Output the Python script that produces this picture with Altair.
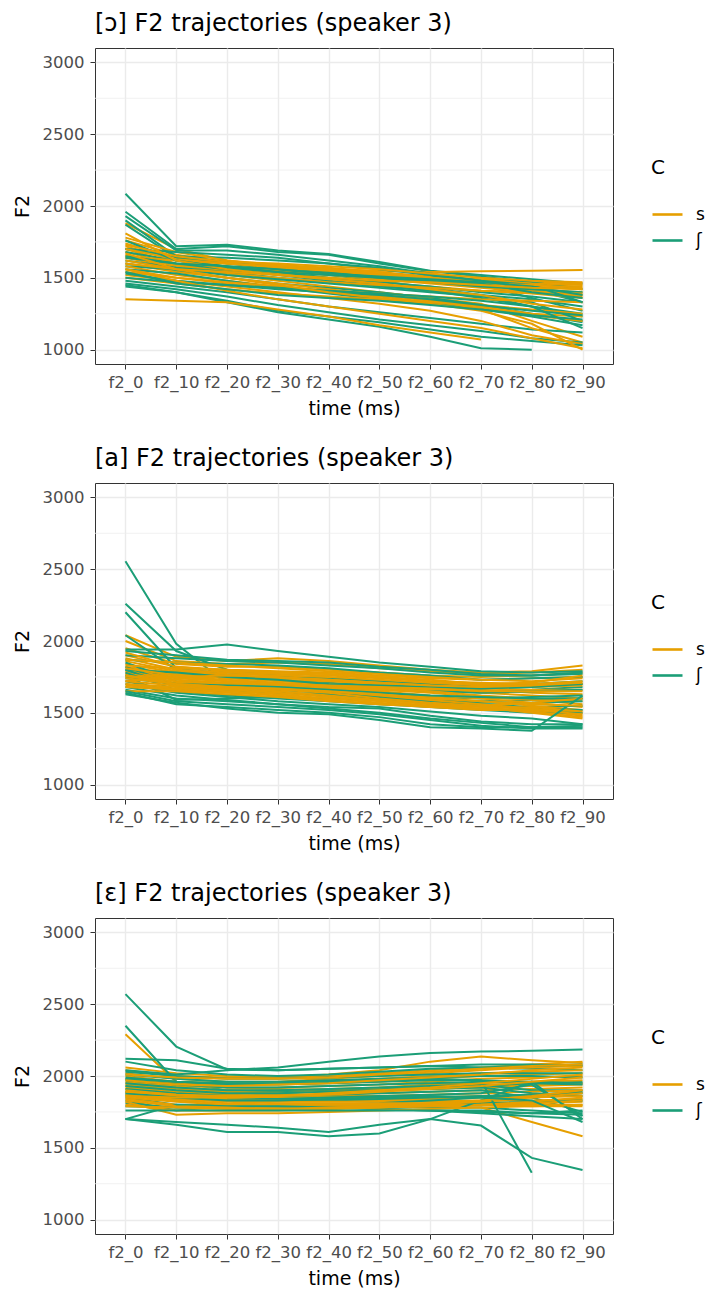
import altair as alt
import pandas as pd

times = ["f2_0", "f2_10", "f2_20", "f2_30", "f2_40", "f2_50", "f2_60", "f2_70", "f2_80", "f2_90"]
categories = ["s", "ʃ"]
colors = ["#E69F00", "#1B9E77"]
y_ticks = [1000, 1500, 2000, 2500, 3000]
y_minor = [1250, 1750, 2250, 2750]
titles = ["[ɔ] F2 trajectories (speaker 3)", "[a] F2 trajectories (speaker 3)", "[ɛ] F2 trajectories (speaker 3)"]

# ---------- [ɔ] ----------
o_s = [
    [1880, 1700, 1620, 1580, 1550, 1520, 1500, 1470, 1450, 1440],
    [1760, 1660, 1610, 1590, 1570, 1540, 1510, 1490, 1470, 1460],
    [1740, 1640, 1600, 1580, 1560, 1550, 1540, 1545, 1550, 1555],
    [1720, 1620, 1580, 1560, 1540, 1510, 1480, 1450, 1420, 1400],
    [1700, 1600, 1570, 1550, 1530, 1500, 1470, 1440, 1410, 1380],
    [1680, 1590, 1560, 1540, 1520, 1490, 1460, 1430, 1400, 1370],
    [1660, 1580, 1550, 1530, 1500, 1470, 1440, 1410, 1390, 1360],
    [1650, 1620, 1600, 1580, 1560, 1530, 1500, 1470, 1440, 1420],
    [1640, 1570, 1520, 1480, 1440, 1400, 1360, 1320, 1200, 1090],
    [1620, 1560, 1530, 1500, 1470, 1450, 1430, 1410, 1400, 1390],
    [1600, 1540, 1500, 1460, 1420, 1380, 1340, 1300, 1250, 1230],
    [1580, 1520, 1480, 1440, 1400, 1370, 1330, 1290, 1240, 1200],
    [1560, 1500, 1460, 1430, 1410, 1390, 1370, 1350, 1340, 1330],
    [1540, 1500, 1470, 1440, 1410, 1380, 1350, 1280, 1150, 1050],
    [1520, 1480, 1440, 1400, 1360, 1320, 1270, 1200, 1100, 1040],
    [1500, 1460, 1420, 1390, 1370, 1350, 1330, 1310, 1280, 1250],
    [1350, 1340, 1330, 1280, 1230, 1170, 1120, 1070, None, None],
    [1780, 1680, 1620, 1590, 1560, 1530, 1500, 1480, 1460, 1450],
    [1700, 1630, 1600, 1570, 1550, 1520, 1490, 1460, 1450, 1430],
    [1810, 1620, 1560, 1520, 1490, 1460, 1420, 1380, 1320, 1280],
    [1560, 1480, 1410, 1350, 1300, 1250, 1200, 1150, 1080, 1010],
    [1670, 1560, 1500, 1450, 1400, 1360, 1320, 1270, 1180, 1000],
    [1600, 1560, 1540, 1520, 1500, 1480, 1470, 1450, 1430, 1420],
    [1730, 1650, 1610, 1600, 1580, 1560, 1530, 1500, 1480, 1470],
]
o_sh = [
    [2085, 1720, 1730, 1690, 1665, 1610, 1550, 1520, 1490, 1460],
    [1960, 1700, 1720, 1680, 1660, 1600, 1545, 1510, 1470, 1420],
    [1930, 1690, 1690, 1660, 1620, 1580, 1530, 1480, 1420, 1330],
    [1900, 1650, 1640, 1620, 1600, 1570, 1520, 1450, 1360, 1270],
    [1870, 1640, 1600, 1560, 1520, 1480, 1430, 1380, 1300, 1230],
    [1700, 1650, 1610, 1570, 1540, 1500, 1470, 1440, 1420, 1400],
    [1680, 1620, 1580, 1540, 1500, 1470, 1440, 1400, 1370, 1330],
    [1650, 1600, 1560, 1520, 1480, 1450, 1410, 1360, 1300, 1250],
    [1620, 1570, 1540, 1500, 1470, 1440, 1410, 1380, 1350, 1300],
    [1600, 1550, 1500, 1460, 1430, 1400, 1360, 1310, 1250, 1190],
    [1580, 1560, 1520, 1490, 1460, 1430, 1400, 1370, 1330, 1200],
    [1560, 1530, 1480, 1430, 1390, 1350, 1320, 1280, 1230, 1170],
    [1480, 1440, 1400, 1350, 1300, 1260, 1220, 1180, 1140, 1120],
    [1460, 1420, 1370, 1310, 1260, 1210, 1170, 1130, 1080, 1050],
    [1450, 1400, 1340, 1270, 1230, 1190, 1140, 1090, 1060, 1030],
    [1440, 1400, 1330, 1260, 1210, 1160, 1090, 1010, 1000, None],
    [1530, 1480, 1450, 1420, 1400, 1380, 1350, 1310, 1270, 1240],
    [1700, 1680, 1660, 1640, 1600, 1560, 1520, 1480, 1450, 1330],
    [1760, 1620, 1570, 1540, 1520, 1500, 1480, 1460, 1400, 1360],
    [1500, 1470, 1450, 1430, 1410, 1390, 1370, 1340, 1300, 1150],
    [1640, 1600, 1580, 1560, 1530, 1510, 1490, 1470, 1440, 1380],
    [1540, 1460, 1420, 1380, 1360, 1340, 1310, 1280, 1240, 1210],
]

# ---------- [a] ----------
a_s = [
    [2040, 1890, 1860, 1880, 1860, 1830, 1800, 1780, 1790, 1830],
    [2000, 1860, 1840, 1850, 1840, 1810, 1790, 1770, 1780, 1800],
    [1950, 1840, 1820, 1820, 1800, 1780, 1760, 1750, 1760, 1780],
    [1900, 1820, 1800, 1790, 1780, 1760, 1740, 1730, 1740, 1750],
    [1880, 1800, 1780, 1770, 1760, 1740, 1720, 1710, 1700, 1720],
    [1860, 1790, 1770, 1760, 1750, 1730, 1710, 1690, 1680, 1690],
    [1840, 1780, 1760, 1740, 1730, 1710, 1690, 1670, 1660, 1660],
    [1820, 1770, 1750, 1730, 1720, 1700, 1680, 1660, 1640, 1630],
    [1800, 1760, 1740, 1720, 1700, 1680, 1660, 1640, 1620, 1600],
    [1790, 1750, 1730, 1710, 1690, 1670, 1650, 1620, 1600, 1580],
    [1780, 1740, 1720, 1700, 1680, 1660, 1640, 1610, 1590, 1560],
    [1770, 1730, 1710, 1690, 1670, 1650, 1620, 1600, 1570, 1540],
    [1760, 1720, 1700, 1680, 1660, 1640, 1610, 1580, 1550, 1520],
    [1750, 1710, 1690, 1670, 1650, 1620, 1590, 1560, 1530, 1500],
    [1740, 1700, 1680, 1660, 1640, 1600, 1570, 1550, 1520, 1480],
    [1720, 1690, 1670, 1650, 1620, 1590, 1560, 1540, 1500, 1460],
    [1700, 1680, 1660, 1640, 1610, 1580, 1550, 1530, 1510, 1470],
    [1690, 1670, 1650, 1630, 1600, 1570, 1540, 1520, 1520, 1490],
    [1680, 1660, 1640, 1620, 1590, 1560, 1540, 1530, 1540, 1510],
    [1650, 1650, 1630, 1610, 1580, 1560, 1550, 1550, 1570, 1600],
    [1870, 1850, 1830, 1810, 1790, 1770, 1750, 1730, 1720, 1740],
    [1830, 1810, 1800, 1780, 1770, 1750, 1730, 1700, 1690, 1700],
    [1810, 1760, 1720, 1700, 1690, 1680, 1670, 1650, 1650, 1650],
    [1720, 1750, 1760, 1750, 1730, 1710, 1690, 1680, 1690, 1710],
    [1920, 1820, 1790, 1780, 1770, 1750, 1720, 1700, 1710, 1760],
    [1760, 1700, 1680, 1670, 1650, 1630, 1600, 1580, 1560, 1550],
]
a_sh = [
    [2555, 1980, 1700, 1660, 1640, 1610, 1590, 1580, 1590, 1600],
    [2260, 1930, 1800, 1760, 1740, 1720, 1690, 1670, 1680, 1700],
    [2200, 1810, 1760, 1730, 1710, 1690, 1670, 1650, 1660, 1680],
    [2040, 1800, 1780, 1760, 1740, 1720, 1700, 1690, 1700, 1720],
    [1940, 1940, 1975, 1930, 1890, 1850, 1820, 1790, 1780, 1790],
    [1930, 1900, 1870, 1860, 1850, 1820, 1800, 1770, 1760, 1780],
    [1900, 1880, 1860, 1850, 1830, 1810, 1780, 1760, 1760, 1770],
    [1870, 1850, 1840, 1830, 1810, 1780, 1760, 1730, 1740, 1750],
    [1850, 1720, 1700, 1690, 1680, 1660, 1650, 1640, 1650, 1660],
    [1820, 1700, 1680, 1660, 1640, 1620, 1610, 1600, 1610, 1620],
    [1800, 1680, 1660, 1640, 1630, 1610, 1590, 1570, 1570, 1580],
    [1780, 1660, 1650, 1640, 1620, 1600, 1580, 1560, 1540, 1550],
    [1760, 1590, 1600, 1610, 1600, 1590, 1570, 1550, 1530, 1520],
    [1740, 1700, 1690, 1680, 1660, 1640, 1620, 1610, 1600, 1600],
    [1720, 1650, 1620, 1600, 1580, 1560, 1540, 1520, 1500, 1500],
    [1700, 1640, 1610, 1580, 1560, 1540, 1510, 1480, 1460, 1420],
    [1680, 1620, 1590, 1560, 1530, 1500, 1460, 1430, 1400, 1410],
    [1660, 1600, 1580, 1560, 1540, 1530, 1480, 1440, 1420, 1420],
    [1640, 1560, 1540, 1520, 1500, 1470, 1420, 1400, 1400, 1400],
    [1630, 1570, 1530, 1500, 1490, 1450, 1400, 1390, 1375, 1620],
    [1650, 1580, 1560, 1540, 1520, 1490, 1450, 1410, 1390, 1390],
    [1800, 1780, 1750, 1730, 1700, 1690, 1680, 1670, 1680, 1700],
]

# ---------- [ɛ] ----------
e_s = [
    [2290, 1960, 1920, 1910, 1900, 1910, 1920, 1930, 1940, 1950],
    [2060, 2020, 2000, 1990, 2000, 2020, 2040, 2060, 2080, 2100],
    [2040, 2000, 1990, 1990, 2010, 2040, 2100, 2135, 2110, 2090],
    [2020, 1980, 1960, 1960, 1980, 2000, 2020, 2040, 2060, 2070],
    [2000, 1960, 1950, 1950, 1960, 1980, 2000, 2020, 2030, 2040],
    [1980, 1950, 1940, 1940, 1950, 1960, 1980, 2000, 2010, 2020],
    [1960, 1930, 1920, 1920, 1930, 1940, 1960, 1980, 1990, 2000],
    [1950, 1920, 1900, 1900, 1910, 1920, 1940, 1950, 1960, 1970],
    [1940, 1910, 1890, 1880, 1890, 1900, 1910, 1920, 1930, 1940],
    [1930, 1900, 1880, 1870, 1870, 1880, 1890, 1900, 1910, 1920],
    [1920, 1890, 1870, 1860, 1860, 1860, 1870, 1880, 1890, 1900],
    [1910, 1880, 1860, 1850, 1850, 1850, 1850, 1860, 1870, 1880],
    [1900, 1870, 1850, 1840, 1840, 1840, 1840, 1850, 1850, 1860],
    [1890, 1860, 1840, 1830, 1830, 1830, 1830, 1830, 1830, 1840],
    [1880, 1850, 1830, 1820, 1820, 1820, 1820, 1820, 1810, 1820],
    [1870, 1840, 1820, 1810, 1810, 1810, 1810, 1810, 1800, 1800],
    [1860, 1830, 1810, 1800, 1800, 1800, 1800, 1800, 1790, 1790],
    [1850, 1820, 1800, 1790, 1790, 1790, 1790, 1780, 1680, 1580],
    [1840, 1800, 1790, 1780, 1780, 1780, 1790, 1800, 1810, 1830],
    [1830, 1790, 1780, 1770, 1770, 1780, 1790, 1800, 1820, 1850],
    [1820, 1730, 1740, 1740, 1750, 1760, 1770, 1780, 1790, 1800],
    [1800, 1760, 1760, 1760, 1770, 1780, 1800, 1820, 1850, 1880],
    [1790, 1780, 1770, 1770, 1780, 1790, 1810, 1830, 1860, 1900],
    [2010, 1990, 1980, 1980, 1990, 2010, 2030, 2050, 2070, 2080],
    [1970, 1940, 1930, 1940, 1950, 1970, 1990, 2010, 2040, 2060],
    [1890, 1870, 1860, 1860, 1880, 1900, 1920, 1950, 1980, 2010],
    [1860, 1850, 1850, 1860, 1870, 1890, 1910, 1930, 1960, 1990],
]
e_sh = [
    [2570, 2205, 2045, 2040, 2050, 2060, 2070, 2060, 2050, 2040],
    [2350, 1960, 1900, 1890, 1900, 1910, 1920, 1930, 1950, 1960],
    [2120, 2110, 2050, 2040, 2050, 2060, 2070, 2080, 2080, 2070],
    [2040, 2010, 2040, 2060, 2100, 2135, 2160, 2170, 2175, 2185],
    [2100, 2040, 2010, 2000, 2010, 2030, 2050, 2060, 2070, 2080],
    [2030, 2000, 1980, 1980, 1990, 2000, 2010, 2020, 2020, 2020],
    [2010, 1980, 1960, 1960, 1970, 1980, 1990, 2000, 2000, 1990],
    [1990, 1960, 1940, 1940, 1950, 1960, 1970, 1970, 1960, 1950],
    [1970, 1940, 1920, 1920, 1930, 1940, 1950, 1960, 1950, 1940],
    [1950, 1920, 1900, 1900, 1910, 1920, 1930, 1940, 1900, 1900],
    [1930, 1900, 1880, 1880, 1890, 1900, 1910, 1920, 1880, 1860],
    [1910, 1880, 1860, 1860, 1870, 1880, 1890, 1900, 1850, 1750],
    [1890, 1860, 1840, 1840, 1850, 1860, 1870, 1880, 1940, 1720],
    [1870, 1840, 1830, 1830, 1830, 1840, 1850, 1860, 1870, 1880],
    [1850, 1800, 1800, 1800, 1800, 1810, 1830, 1850, 1870, 1890],
    [1830, 1760, 1790, 1790, 1790, 1790, 1800, 1810, 1820, 1830],
    [1810, 1780, 1780, 1780, 1780, 1780, 1780, 1780, 1760, 1740],
    [1790, 1780, 1780, 1780, 1780, 1770, 1760, 1750, 1740, 1730],
    [1700, 1800, 1790, 1790, 1780, 1770, 1760, 1740, 1720, 1700],
    [1700, 1660, 1610, 1610, 1580, 1600, 1700, 1830, 1960, 1700],
    [1700, 1680, 1660, 1640, 1610, 1660, 1700, 1655, 1430, 1345],
    [1980, 1960, 1950, 1950, 1960, 1970, 1980, 1970, 1326, None],
    [1760, 1760, 1760, 1760, 1760, 1760, 1760, 1760, 1740, 1760],
    [1880, 1850, 1830, 1830, 1840, 1850, 1860, 1850, 1830, 1680],
]

FONT = "DejaVu Sans"


def make_df(s_list, sh_list):
    rows = []
    tok = 0
    n = max(len(s_list), len(sh_list))
    for i in range(n):
        for lab, lst in ((categories[0], s_list), (categories[1], sh_list)):
            if i < len(lst):
                for t, v in zip(times, lst[i]):
                    if v is not None:
                        rows.append({"token": tok, "C": lab, "time": t, "F2": v})
                tok += 1
    return pd.DataFrame(rows)


def panel(df, title):
    y_enc = alt.Y(
        "F2:Q",
        title="F2",
        scale=alt.Scale(domain=[900, 3100], nice=False, zero=False),
        axis=alt.Axis(values=y_ticks, format="d", labelPadding=6, titlePadding=10),
    )
    minor = alt.Chart(pd.DataFrame({"F2": y_minor})).mark_rule(
        color="#EDEDED", strokeWidth=0.8
    ).encode(y=y_enc)
    lines = alt.Chart(df).mark_line(strokeWidth=2).encode(
        x=alt.X(
            "time:N",
            sort=times,
            title="time (ms)",
            scale=alt.Scale(type="point", padding=0.6),
            axis=alt.Axis(labelAngle=0, labelPadding=5, titlePadding=9),
        ),
        y=y_enc,
        color=alt.Color(
            "C:N",
            scale=alt.Scale(domain=categories, range=colors),
            legend=alt.Legend(
                title="C",
                orient="none",
                legendX=556,
                legendY=110,
                symbolType="stroke",
                symbolSize=900,
                symbolStrokeWidth=2.6,
                labelFontSize=17,
                labelFont=FONT,
                labelColor="black",
                titleFontSize=20,
                titleFont=FONT,
                titleFontWeight="normal",
                titleColor="black",
                titlePadding=20,
                labelOffset=12,
                rowPadding=1,
            ),
        ),
        detail="token:N",
    )
    return alt.layer(minor, lines).properties(
        width=518,
        height=316,
        title=alt.TitleParams(
            title, anchor="start", frame="group", fontSize=24, font=FONT,
            fontWeight="normal", color="black", offset=12,
        ),
    )


p1 = panel(make_df(o_s, o_sh), titles[0])
p2 = panel(make_df(a_s, a_sh), titles[1])
p3 = panel(make_df(e_s, e_sh), titles[2])

chart = (
    alt.vconcat(p1, p2, p3, spacing=27)
    .resolve_legend(color="independent")
    .properties(padding={"left": 12, "top": 11, "right": 0, "bottom": 0})
    .configure_view(stroke="#333333", strokeWidth=1)
    .configure_axis(
        grid=True,
        gridColor="#EBEBEB",
        gridWidth=1.4,
        domain=False,
        tickColor="#333333",
        tickSize=5,
        tickWidth=1,
        labelFont=FONT,
        labelFontSize=16.5,
        labelColor="#4D4D4D",
        labelOverlap=False,
        titleFont=FONT,
        titleFontSize=19,
        titleFontWeight="normal",
        titleColor="black",
    )
)

chart.save("out.html", embed_options={"renderer": "svg", "actions": False})
